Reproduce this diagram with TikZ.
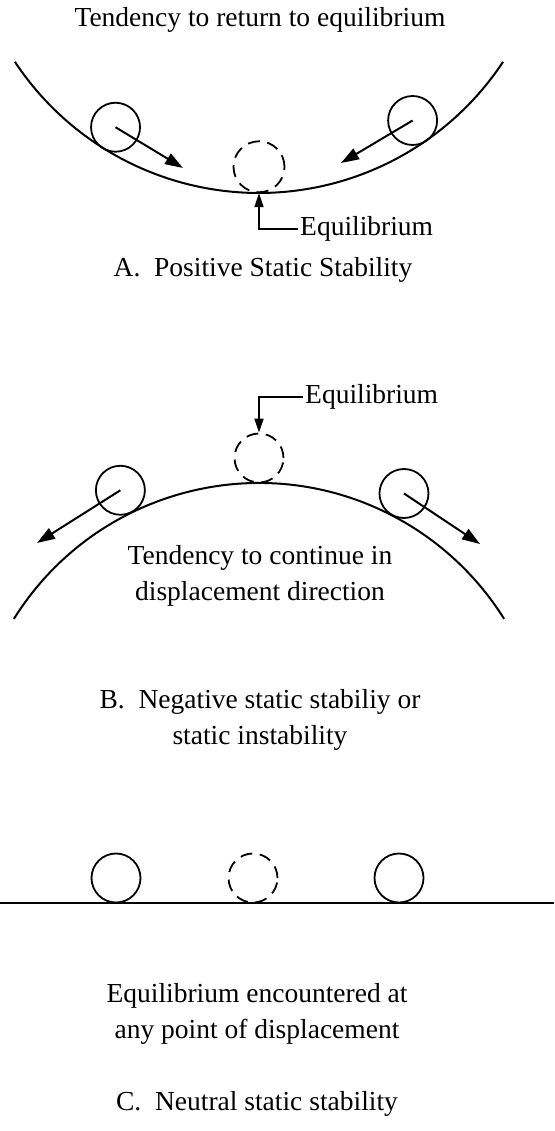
\documentclass[tikz,border=0pt]{standalone}
\usepackage{fontspec}
\setmainfont{Liberation Serif}
\usepackage{tikz}
\usetikzlibrary{arrows.meta,positioning,calc}
\tikzset{
  ball/.style={circle, draw=black, line width=1.8pt, minimum size=49pt, inner sep=0pt},
  ghostball/.style={ball, dash pattern=on 12pt off 7.6pt},
  surface/.style={draw=black, line width=2pt},
  pusharrow/.style={-{Triangle[length=18pt,width=12pt]}, line width=2pt},
  pointer/.style={-{Triangle[length=14pt,width=9pt]}, line width=1.8pt},
  lbl/.style={font=\fontsize{27.5}{36}\selectfont, inner sep=2pt, align=center}
}

\begin{document}
\begin{tikzpicture}[x=1pt,y=-1pt]
  \useasboundingbox (0,0) rectangle (554,1131);

  % A: positive static stability
  \coordinate (ca) at (259,-99.7);
  \node[lbl, anchor=base] (tendA) at (260,27) {Tendency to return to equilibrium};
  \draw[surface] ($(ca)+(146.5:292.7)$) arc[start angle=146.5, end angle=33.5, radius=292.7];
  \node[ball] (al) at ($(ca)+(122.3:268.5)$) {};
  \node[ball] (ar) at ($(ca)+(55.1:268.5)$) {};
  \node[ghostball, minimum size=51pt] (ea) at ($(ca)+(90:266.5)$) {};
  \coordinate (alt) at (183,168);
  \coordinate (art) at (341,163);
  \draw[pusharrow] (al.center) -- (alt);
  \draw[pusharrow] (ar.center) -- (art);
  \node[lbl, anchor=west] (eqa) at (298,229) {Equilibrium};
  \draw[pointer] (eqa.west) -| (ea.south);
  \node[lbl, anchor=base] (capA) at (263,277) {A.\enspace Positive Static Stability};

  % B: negative static stability
  \coordinate (cb) at (259,772);
  \node[lbl, anchor=west] (eqb) at (303,397) {Equilibrium};
  \draw[surface] ($(cb)+(212:289)$) arc[start angle=212, end angle=328, radius=289];
  \node[ghostball] (eb) at ($(cb)+(270:314)$) {};
  \node[ball] (bl) at ($(cb)+(243.8:314)$) {};
  \node[ball] (br) at ($(cb)+(297.5:314)$) {};
  \coordinate (blt) at (37,543);
  \coordinate (brt) at (480,544);
  \draw[pusharrow] (bl.center) -- (blt);
  \draw[pusharrow] (br.center) -- (brt);
  \draw[pointer] (eqb.west) -| (eb.north);
  \node[lbl] (tendB) at (260,576) {Tendency to continue in\\displacement direction};
  \node[lbl] (capB) at (260,720) {B.\enspace Negative static stabiliy or\\static instability};

  % C: neutral static stability
  \coordinate (cl) at (0,903);
  \coordinate (cr) at (554,903);
  \draw[surface] (cl) -- (cr);
  \node[ball] (nl) at (116,878) {};
  \node[ghostball] (ne) at (253,878) {};
  \node[ball] (nr) at (399,878) {};
  \node[lbl] (tendC) at (257,1014) {Equilibrium encountered at\\any point of displacement};
  \node[lbl, anchor=base] (capC) at (257,1110) {C.\enspace Neutral static stability};
\end{tikzpicture}
\end{document}
